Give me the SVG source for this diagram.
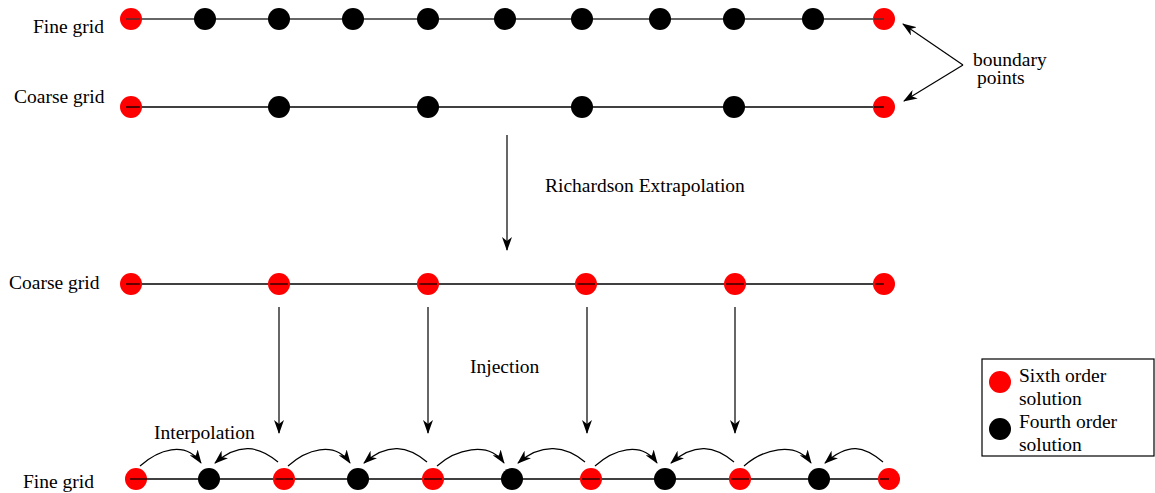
<svg xmlns="http://www.w3.org/2000/svg" width="1155" height="493" viewBox="0 0 1155 493">
<style>
text{font-family:"Liberation Serif","Times New Roman",serif;font-size:19.5px;fill:#000}
.red{fill:#ff0000}
.blk{fill:#000}
.ln{stroke:#000;stroke-width:1.3;fill:none}
.arr{stroke:#000;stroke-width:1.2;fill:none;marker-end:url(#ah)}
</style>
<defs>
<marker id="ah" viewBox="0 0 14 10" refX="13" refY="5" markerWidth="14" markerHeight="10" markerUnits="userSpaceOnUse" orient="auto">
<path d="M0,0 L14,5 L0,10 L4,5 z" fill="#000"/>
</marker>
</defs>
<rect width="1155" height="493" fill="#fff"/>

<g id="row1-fine">
<line x1="126" y1="19" x2="884" y2="19" stroke="#666" stroke-width="1.8"/>
<circle class="red" cx="131" cy="19" r="11"/>
<circle class="blk" cx="205" cy="19" r="11"/>
<circle class="blk" cx="279" cy="19" r="11"/>
<circle class="blk" cx="353" cy="19" r="11"/>
<circle class="blk" cx="428" cy="19" r="11"/>
<circle class="blk" cx="505" cy="19" r="11"/>
<circle class="blk" cx="582" cy="19" r="11"/>
<circle class="blk" cx="660" cy="19" r="11"/>
<circle class="blk" cx="734" cy="19" r="11"/>
<circle class="blk" cx="813" cy="19" r="11"/>
<circle class="red" cx="884" cy="19" r="11"/>
<line x1="126" y1="19" x2="140" y2="19" stroke="#333" stroke-width="1.3"/>
<line x1="874" y1="19" x2="884" y2="19" stroke="#333" stroke-width="1.3"/>
<text x="33" y="33">Fine grid</text>
</g>

<g id="row2-coarse">
<line class="ln" x1="126" y1="107" x2="884" y2="107"/>
<circle class="red" cx="131" cy="107" r="11"/>
<circle class="blk" cx="279" cy="107" r="11"/>
<circle class="blk" cx="428" cy="107" r="11"/>
<circle class="blk" cx="582" cy="107" r="11"/>
<circle class="blk" cx="734" cy="107" r="11"/>
<circle class="red" cx="884" cy="107" r="11"/>
<line class="ln" x1="126" y1="107" x2="140" y2="107"/>
<line class="ln" x1="874" y1="107" x2="884" y2="107"/>
<text x="14" y="103">Coarse grid</text>
</g>

<g id="row3-coarse">
<line class="ln" x1="126" y1="284" x2="884" y2="284"/>
<circle class="red" cx="131" cy="284" r="11"/>
<circle class="red" cx="279" cy="284" r="11"/>
<circle class="red" cx="428" cy="284" r="11"/>
<circle class="red" cx="586" cy="284" r="11"/>
<circle class="red" cx="735" cy="284" r="11"/>
<circle class="red" cx="884" cy="284" r="11"/>
<g stroke="#000" stroke-width="1.2">
<line x1="126" y1="284" x2="140" y2="284"/>
<line x1="270" y1="284" x2="288" y2="284"/>
<line x1="419" y1="284" x2="437" y2="284"/>
<line x1="577" y1="284" x2="595" y2="284"/>
<line x1="726" y1="284" x2="744" y2="284"/>
<line x1="875" y1="284" x2="884" y2="284"/>
</g>
<text x="9" y="289">Coarse grid</text>
</g>

<g id="row4-fine">
<line class="ln" x1="130" y1="479" x2="889" y2="479"/>
<circle class="red" cx="136" cy="479" r="11"/>
<circle class="blk" cx="209" cy="479" r="11"/>
<circle class="red" cx="284" cy="479" r="11"/>
<circle class="blk" cx="358" cy="479" r="11"/>
<circle class="red" cx="433" cy="479" r="11"/>
<circle class="blk" cx="512" cy="479" r="11"/>
<circle class="red" cx="591" cy="479" r="11"/>
<circle class="blk" cx="665" cy="479" r="11"/>
<circle class="red" cx="740" cy="479" r="11"/>
<circle class="blk" cx="819" cy="479" r="11"/>
<circle class="red" cx="889" cy="479" r="11"/>
<g stroke="#000" stroke-width="1.2">
<line x1="130" y1="479" x2="147" y2="479"/>
<line x1="275" y1="479" x2="293" y2="479"/>
<line x1="424" y1="479" x2="442" y2="479"/>
<line x1="582" y1="479" x2="600" y2="479"/>
<line x1="731" y1="479" x2="749" y2="479"/>
<line x1="880" y1="479" x2="889" y2="479"/>
</g>
<text x="23" y="488">Fine grid</text>
</g>

<g id="connectors">
<line class="arr" x1="963" y1="65" x2="903" y2="24"/>
<line class="arr" x1="963" y1="65" x2="904" y2="101"/>
<line class="arr" x1="507" y1="135" x2="507" y2="250"/>
<line class="arr" x1="279" y1="307" x2="279" y2="433"/>
<line class="arr" x1="428" y1="307" x2="428" y2="433"/>
<line class="arr" x1="587" y1="307" x2="587" y2="433"/>
<line class="arr" x1="735" y1="307" x2="735" y2="433"/>
<path class="arr" d="M140,466 C158,450 185,440 201,463"/>
<path class="arr" d="M278,462 C259,446 239,442 215,463"/>
<path class="arr" d="M288,466 C306,450 334,440 350,463"/>
<path class="arr" d="M427,462 C408,446 388,442 364,463"/>
<path class="arr" d="M437,466 C455,450 488,440 504,463"/>
<path class="arr" d="M585,462 C566,446 542,442 518,463"/>
<path class="arr" d="M595,466 C613,450 641,440 657,463"/>
<path class="arr" d="M734,462 C715,446 695,442 671,463"/>
<path class="arr" d="M744,466 C762,450 795,440 811,463"/>
<path class="arr" d="M883,462 C864,446 849,442 825,463"/>
</g>

<g id="labels">
<text x="973" y="66">boundary</text>
<text x="977" y="84">points</text>
<text x="545" y="192">Richardson Extrapolation</text>
<text x="470" y="373">Injection</text>
<text x="154" y="439">Interpolation</text>
</g>

<g id="legend">
<rect x="982" y="359" width="172" height="97" fill="#fff" stroke="#000" stroke-width="1.2"/>
<circle class="red" cx="1000" cy="382" r="11"/>
<circle class="blk" cx="1000" cy="429" r="11"/>
<text x="1019" y="382">Sixth order</text>
<text x="1019" y="405">solution</text>
<text x="1019" y="428">Fourth order</text>
<text x="1019" y="451">solution</text>
</g>
</svg>
